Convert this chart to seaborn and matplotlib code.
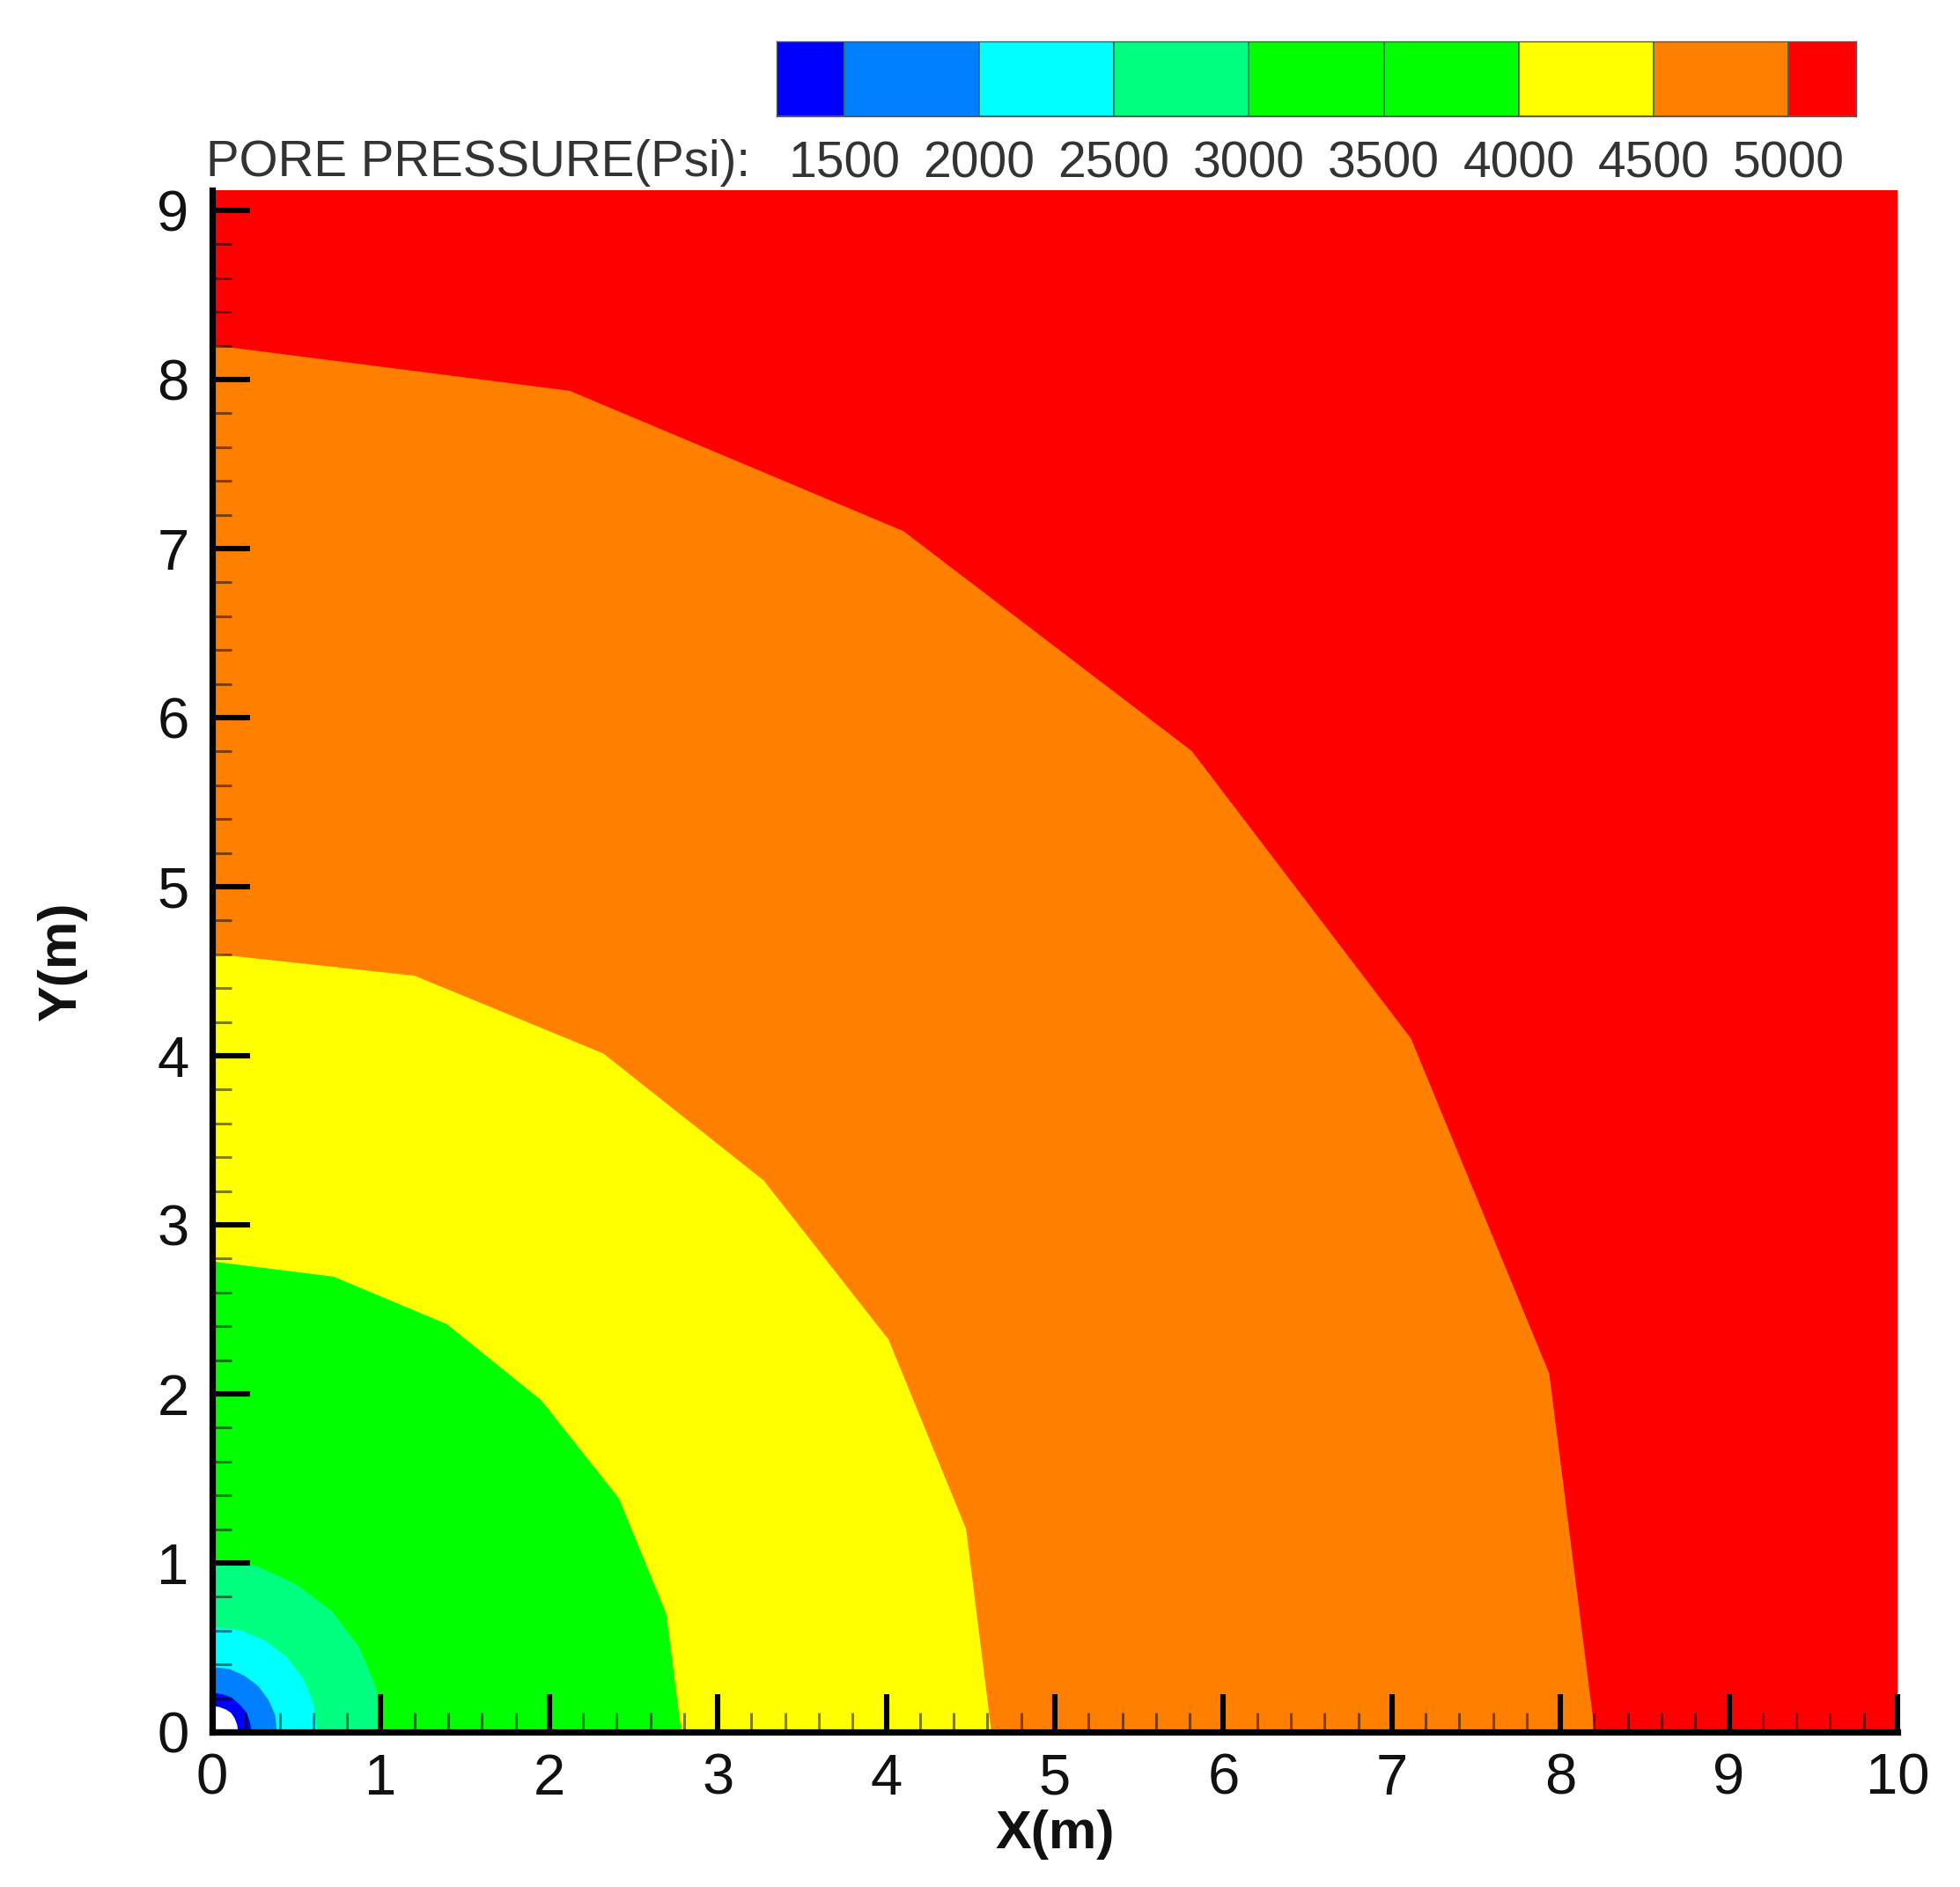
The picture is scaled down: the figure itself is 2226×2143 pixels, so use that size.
import matplotlib
matplotlib.use("Agg")
import matplotlib.pyplot as plt
from matplotlib.ticker import MultipleLocator
import pandas as pd
import seaborn as sns

sns.set_theme(style="ticks")
plt.rcParams['font.family'] = ['Liberation Sans', 'DejaVu Sans']

W, H = 2226, 2143

# contour boundaries, outer to inner
x_5000 = [0, 2.12, 4.10, 5.81, 7.11, 7.93, 8.20]
y_5000 = [8.20, 7.93, 7.10, 5.80, 4.10, 2.12, 0]
x_4500 = [0, 1.20, 2.32, 3.27, 4.01, 4.47, 4.62]
y_4500 = [4.60, 4.47, 4.01, 3.26, 2.32, 1.20, 0]
x_3500 = [0, 0.72, 1.39, 1.95, 2.41, 2.69, 2.78]
y_3500 = [2.78, 2.69, 2.41, 1.96, 1.38, 0.70, 0]
x_3000 = [0, 0.26, 0.50, 0.71, 0.87, 0.97, 1.02]
y_3000 = [1.02, 0.98, 0.87, 0.71, 0.50, 0.26, 0]
x_2500 = [0, 0.16, 0.31, 0.44, 0.54, 0.60, 0.62]
y_2500 = [0.62, 0.60, 0.54, 0.44, 0.31, 0.16, 0]
x_2000 = [0, 0.10, 0.19, 0.27, 0.33, 0.37, 0.38]
y_2000 = [0.38, 0.37, 0.33, 0.27, 0.19, 0.10, 0]
x_1500 = [0, 0.06, 0.115, 0.16, 0.20, 0.22, 0.23]
y_1500 = [0.23, 0.22, 0.20, 0.16, 0.115, 0.06, 0]
x_hole = [0, 0.04, 0.08, 0.11, 0.13, 0.145, 0.15]
y_hole = [0.15, 0.145, 0.13, 0.11, 0.08, 0.04, 0]

contours = [
    (x_5000, y_5000, '#ff8000'),
    (x_4500, y_4500, '#ffff00'),
    (x_3500, y_3500, '#00ff00'),
    (x_3000, y_3000, '#00ff80'),
    (x_2500, y_2500, '#00ffff'),
    (x_2000, y_2000, '#0080ff'),
    (x_1500, y_1500, '#0000ff'),
    (x_hole, y_hole, 'white'),
]

# legend
level_edges = [1250, 1500, 2000, 2500, 3000, 3500, 4000, 4500, 5000, 5250]
level_colors = ['#0000ff', '#0080ff', '#00ffff', '#00ff80', '#00ff00',
                '#00ff00', '#ffff00', '#ff8000', '#ff0000']
level_labels = [1500, 2000, 2500, 3000, 3500, 4000, 4500, 5000]

fig = plt.figure(figsize=(W / 100, H / 100), dpi=100)
ax = fig.add_axes([241 / W, 1 - 1967 / H, (2155 - 241) / W, (1967 - 216) / H])
ax.set_facecolor('#ff0000')

for xs, ys, col in contours:
    ax.fill(xs + [0], ys + [0], color=col, lw=0, zorder=1)
    sns.lineplot(data=pd.DataFrame({'x': xs, 'y': ys}), x='x', y='y', sort=False,
                 estimator=None, color=col, lw=1, ax=ax, zorder=1)

ax.set_xlim(0, 10)
ax.set_ylim(0, 9.12)
ax.xaxis.set_major_locator(MultipleLocator(1))
ax.yaxis.set_major_locator(MultipleLocator(1))
ax.xaxis.set_minor_locator(MultipleLocator(0.2))
ax.yaxis.set_minor_locator(MultipleLocator(0.2))
ax.tick_params(which='major', direction='in', length=31, width=4.4, color='black',
               labelsize=47, labelcolor='#111111', pad=17)
ax.tick_params(axis='y', which='major', pad=19)
ax.tick_params(which='minor', direction='in', length=16, width=2.2, color=(0, 0, 0, 0.5))
sns.despine(ax=ax)
for side in ['left', 'bottom']:
    ax.spines[side].set_linewidth(5.2)
    ax.spines[side].set_color('black')
    ax.spines[side].set_zorder(5)
ax.set_axisbelow(False)
ax.set_xlabel('X(m)', fontsize=44, fontweight='bold', color='#111111', labelpad=3)
ax.set_ylabel('Y(m)', fontsize=44, fontweight='bold', color='#111111', labelpad=57)

# colour key above the plot
cax = fig.add_axes([882 / W, 1 - 132 / H, (2108 - 882) / W, 85 / H])
for i, col in enumerate(level_colors):
    cax.barh(0, level_edges[i + 1] - level_edges[i], left=level_edges[i], height=1,
             color=col, edgecolor='#2f6f5f', lw=1.2)
cax.set_xlim(level_edges[0], level_edges[-1])
cax.set_ylim(-0.5, 0.5)
cax.set_yticks([])
cax.set_xticks(level_labels)
cax.set_xticklabels(level_labels)
cax.tick_params(axis='x', length=0, labelsize=41, labelcolor='#333333', pad=20)
for sp in cax.spines.values():
    sp.set_linewidth(1)
    sp.set_color('#555555')
fig.text(234 / W, 1 - 185 / H, 'PORE PRESSURE(Psi):', fontsize=40.7, color='#333333',
         ha='left', va='center')

fig.savefig('out.png', dpi=100)
